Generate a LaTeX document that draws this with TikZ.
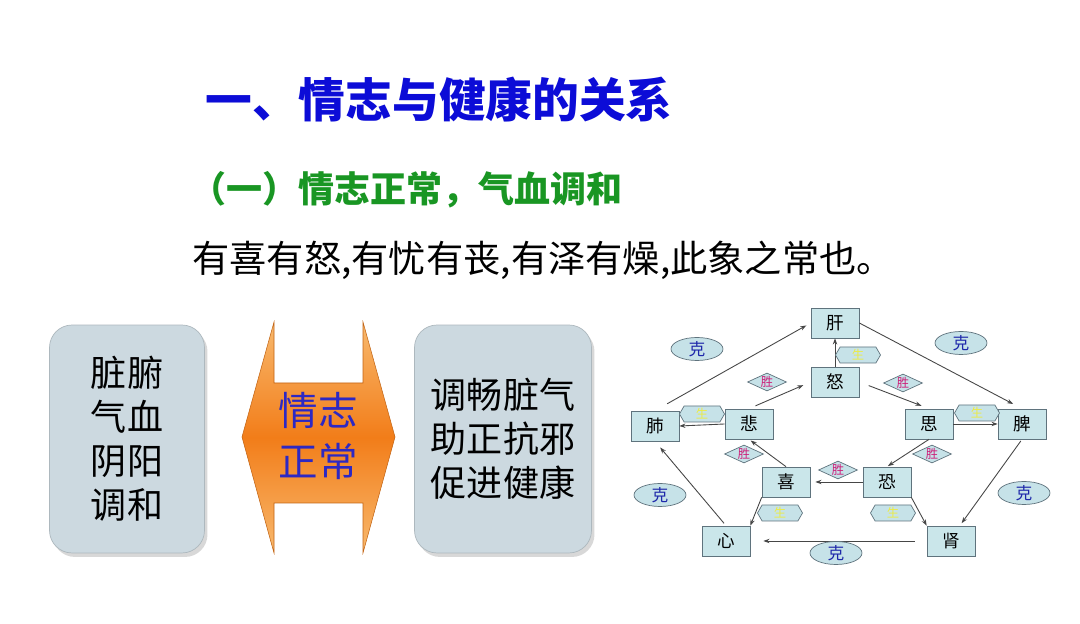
\documentclass[tikz,border=0pt]{standalone}
\usepackage{fontspec}
\usepackage{tikz}
\usetikzlibrary{arrows.meta,calc,shapes.geometric,shapes.symbols,shadows,positioning}
\setmainfont{Noto Sans CJK SC}
\definecolor{titleblue}{RGB}{12,12,215}
\definecolor{subgreen}{RGB}{25,150,35}
\definecolor{midblue}{RGB}{45,40,195}
\definecolor{panelfill}{RGB}{204,217,224}
\definecolor{boxfill}{RGB}{202,230,234}
\definecolor{boxline}{RGB}{95,115,125}
\definecolor{ovalfill}{RGB}{198,226,232}
\definecolor{keblue}{RGB}{30,40,170}
\definecolor{winred}{RGB}{205,30,120}
\definecolor{genyellow}{RGB}{235,235,70}
\definecolor{linegray}{RGB}{70,70,70}
\definecolor{orlight}{RGB}{248,185,110}
\definecolor{ordark}{RGB}{242,125,25}

\begin{document}
\begin{tikzpicture}[x=0.02cm,y=-0.02cm,
  zang/.style={draw=boxline,fill=boxfill,minimum width=0.96cm,minimum height=0.6cm,
    inner sep=0pt,font=\fontsize{10}{10}\selectfont},
  ke/.style={ellipse,draw=boxline,fill=ovalfill,minimum width=1.04cm,minimum height=0.46cm,
    inner sep=0pt,text=keblue,font=\fontsize{9.5}{10}\selectfont},
  win/.style={diamond,aspect=2.1,draw=boxline,fill=ovalfill,minimum width=0.78cm,
    minimum height=0.36cm,inner sep=0pt,text=winred,font=\fontsize{7}{7}\selectfont},
  gen/.style={signal,signal to=east and west,signal pointer angle=120,draw=boxline,
    fill=ovalfill,minimum width=0.9cm,minimum height=0.32cm,inner sep=0pt,
    text=genyellow,font=\fontsize{7}{7}\selectfont},
  link/.style={-{Stealth[length=3.5pt,width=2.5pt]},draw=linegray,line width=0.5pt},
  panel/.style={rounded corners=0.45cm,fill=panelfill,draw=panelfill!85!black,
    drop shadow={shadow xshift=0.06cm,shadow yshift=-0.08cm,opacity=0.3},
    align=center,font=\fontsize{20.5}{25}\selectfont}]
  \useasboundingbox[fill=white] (0,0) rectangle (1080,624);

  % headings
  \node[anchor=west,inner sep=0pt,text=titleblue,font=\fontsize{26.6}{30}\selectfont\bfseries]
    (title) at (205,100) {一、情志与健康的关系};
  \node[anchor=west,inner sep=0pt,text=subgreen,font=\fontsize{20.5}{24}\selectfont\bfseries]
    (sub) at (190,190) {（一）情志正常，气血调和};
  \node[anchor=west,inner sep=0pt,font=\fontsize{21.2}{24}\selectfont]
    (quote) at (192,260) {有喜有怒,有忧有丧,有泽有燥,此象之常也。};

  % left and right panels
  \node[panel,minimum width=3.1cm,minimum height=4.56cm] (lpanel) at (127,439)
    {脏腑\\气血\\阴阳\\调和};
  \node[panel,minimum width=3.54cm,minimum height=4.56cm] (rpanel) at (503,439)
    {调畅脏气\\助正抗邪\\促进健康};

  % orange double arrow
  \shade[top color=orlight,bottom color=orlight,middle color=ordark,draw=ordark!80!black,line width=0.3pt]
    (274,322) -- (274,383) -- (363,383) -- (363,322) -- (395,437) -- (363,553)
    -- (363,503) -- (274,503) -- (274,553) -- (242,437) -- cycle;
  \node[align=center,text=midblue,font=\fontsize{22.5}{29}\selectfont] (mid) at (318,436)
    {情志\\正常};

  % five organs and five emotions
  \node[zang] (gan)  at (835,323) {肝};
  \node[zang] (nu)   at (835,382) {怒};
  \node[zang] (fei)  at (655,426) {肺};
  \node[zang] (bei)  at (749,424) {悲};
  \node[zang] (si)   at (929,424) {思};
  \node[zang] (pi)   at (1022,424) {脾};
  \node[zang] (xi)   at (786,482) {喜};
  \node[zang] (kong) at (887,482) {恐};
  \node[zang] (xin)  at (726,541) {心};
  \node[zang] (shen) at (951,541) {肾};

  % outer ring: ke
  \draw[link,shorten <=0.28cm,shorten >=0.1cm] (fei.north) -- (gan.west);
  \draw[link,shorten >=0.2cm] (gan.east) -- (pi.north);
  \draw[link,shorten <=0.04cm,shorten >=0.06cm] (pi.south) -- (shen.60);
  \draw[link,shorten <=0.24cm,shorten >=0.26cm] (shen.west) -- (xin.east);
  \draw[link,shorten <=0.06cm,shorten >=0.16cm] (xin.north) -- (fei.south);
  \node[ke] (k1) at (697,349) {克};
  \node[ke] (k2) at (961,343) {克};
  \node[ke] (k3) at (1024,493) {克};
  \node[ke] (k4) at (836,553) {克};
  \node[ke] (k5) at (660,495) {克};

  % inner ring: sheng (win)
  \draw[link,shorten <=0.14cm,shorten >=0.16cm] (bei.north) -- (nu.west);
  \draw[link,shorten <=0.2cm,shorten >=0.16cm] (nu.east) -- (si.north);
  \draw[link,shorten >=0.02cm] (si.south) -- (kong.north);
  \draw[link,shorten >=0.1cm] (kong.west) -- (xi.east);
  \draw[link,shorten >=0.04cm] (xi.north) -- (bei.south);
  \node[win] (w1) at (767,382) {胜};
  \node[win] (w2) at (903,383) {胜};
  \node[win] (w3) at (932,454) {胜};
  \node[win] (w4) at (838,470) {胜};
  \node[win] (w5) at (744,454) {胜};

  % emotion to organ: sheng (gen)
  \draw[link] (nu.north) -- (gan.south);
  \draw[link] (bei.west) -- (fei.east);
  \draw[link] (si.east) -- (pi.west);
  \draw[link] (xi.south west) -- (xin.north east);
  \draw[link] (kong.south east) -- (shen.north west);
  \node[gen] (g1) at (858,355) {生};
  \node[gen] (g2) at (702,414) {生};
  \node[gen] (g3) at (977,413) {生};
  \node[gen] (g4) at (780,513) {生};
  \node[gen] (g5) at (893,513) {生};
\end{tikzpicture}
\end{document}
